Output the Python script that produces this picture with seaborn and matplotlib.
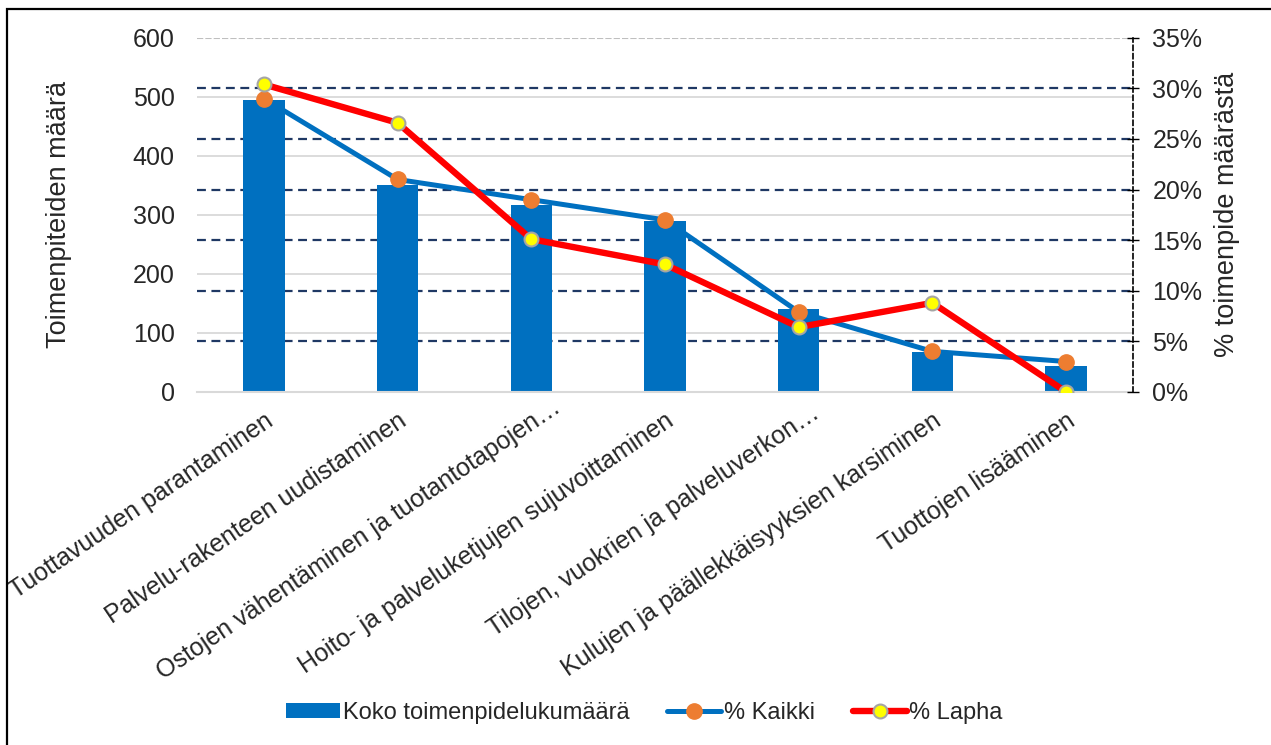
import numpy as np
import pandas as pd
import matplotlib.pyplot as plt
import matplotlib.transforms as mtransforms
import seaborn as sns
from matplotlib.patches import Patch, Rectangle
from matplotlib.lines import Line2D

# Luokat ja arvot kuvasta luettuina
kategoriat = [
    "Tuottavuuden parantaminen",
    "Palvelu-rakenteen uudistaminen",
    "Ostojen vähentäminen ja tuotantotapojen…",
    "Hoito- ja palveluketjujen sujuvoittaminen",
    "Tilojen, vuokrien ja palveluverkon…",
    "Kulujen ja päällekkäisyyksien karsiminen",
    "Tuottojen lisääminen",
]
lukumaara = [495, 351, 317, 290, 140, 67, 44]
pros_kaikki = [29.0, 21.0, 19.0, 17.0, 7.9, 4.0, 3.0]
pros_lapha = [30.4, 26.6, 15.1, 12.6, 6.4, 8.8, 0.0]

vasen_tikit = [0, 100, 200, 300, 400, 500, 600]
oikea_tikit = [0, 5, 10, 15, 20, 25, 30, 35]

df = pd.DataFrame({"kategoria": kategoriat, "lukumaara": lukumaara,
                   "kaikki": pros_kaikki, "lapha": pros_lapha})

sns.set_style("white")
plt.rcParams['font.family'] = ['Liberation Sans', 'DejaVu Sans']

fig = plt.figure(figsize=(12.71, 7.45), dpi=100)
ax = fig.add_axes([0.155, 0.474, 0.7364, 0.4752])

# vaaleat harmaat viivat vasemman akselin mukaan
for v in vasen_tikit[1:-1]:
    ax.axhline(v, color='#d9d9d9', lw=1.3, zorder=0)
ax.axhline(vasen_tikit[-1], color='#bfbfbf', lw=1.5, ls=(0, (3, 1)), zorder=0)
# tummansiniset katkoviivat oikean akselin mukaan
for p in oikea_tikit[1:-1]:
    ax.axhline(p / oikea_tikit[-1] * vasen_tikit[-1], color='#1f3864', lw=1.6,
               ls=(0, (4, 2.5)), zorder=0.5)

sns.barplot(data=df, x="kategoria", y="lukumaara", color='#0070C0', saturation=1,
            width=0.31, linewidth=0, ax=ax, zorder=2)

ax.set_ylim(0, 600)
ax.set_xlim(-0.5, len(kategoriat) - 0.5)
ax.set_yticks(vasen_tikit)
ax.tick_params(axis='y', length=0, pad=16, labelsize=18)
ax.set_ylabel("Toimenpiteiden määrä", fontsize=19.5, labelpad=44)
ax.set_xlabel("")
for s in ['left', 'top', 'right']:
    ax.spines[s].set_visible(False)
ax.spines['bottom'].set_color('#d9d9d9')
ax.spines['bottom'].set_linewidth(1.5)
ax.set_xticks(np.arange(len(kategoriat)))
ax.set_xticklabels(kategoriat, rotation=34, ha='right', rotation_mode='anchor', fontsize=18)
ax.set_xticks(np.arange(-0.5, len(kategoriat)), minor=True)
ax.tick_params(axis='x', which='major', length=0, pad=12)
ax.tick_params(axis='x', which='minor', length=7, width=1.5, color='#d9d9d9')

# katkaistut otsikot ulottuvat hieman pidemmälle (kuten Excelissä)
for lbl in ax.get_xticklabels():
    if lbl.get_text().endswith("…"):
        siirto = 24 if "Ostojen" in lbl.get_text() else 14
        dx = siirto * np.cos(np.radians(34)) / 100
        dy = siirto * np.sin(np.radians(34)) / 100
        lbl.set_transform(lbl.get_transform() +
                          mtransforms.ScaledTranslation(dx, dy, fig.dpi_scale_trans))

ax2 = ax.twinx()
sns.pointplot(data=df, x="kategoria", y="kaikki", color='#0070C0', errorbar=None,
              markerfacecolor='#ED7D31', markeredgecolor='#ED7D31', markersize=11,
              linewidth=3.6, markeredgewidth=1, ax=ax2)
sns.pointplot(data=df, x="kategoria", y="lapha", color='#FF0000', errorbar=None,
              markerfacecolor='#FFFF00', markeredgecolor='#A5A5A5', markersize=10,
              linewidth=4.6, markeredgewidth=1.5, ax=ax2)
ax2.set_xlim(-0.5, len(kategoriat) - 0.5)
ax2.set_ylim(0, 35)
ax2.set_yticks(oikea_tikit)
ax2.set_yticklabels([f"{p}%" for p in oikea_tikit])
ax2.tick_params(axis='y', direction='inout', length=8, width=1, color='black',
                pad=10, labelsize=18)
ax2.set_ylabel("% toimenpide määrästä", fontsize=19.5, labelpad=8)
ax2.set_xlabel("")
for s in ['left', 'top', 'bottom']:
    ax2.spines[s].set_visible(False)
ax2.spines['right'].set_linestyle((0, (3, 2)))
ax2.spines['right'].set_color('black')
ax2.spines['right'].set_linewidth(1.2)

kahvat = [
    Patch(facecolor='#0070C0', edgecolor='none'),
    Line2D([], [], color='#0070C0', lw=3.6, marker='o', markersize=11,
           markerfacecolor='#ED7D31', markeredgecolor='#ED7D31'),
    Line2D([], [], color='#FF0000', lw=4.6, marker='o', markersize=10,
           markerfacecolor='#FFFF00', markeredgecolor='#A5A5A5', markeredgewidth=1.5),
]
fig.legend(kahvat, ["Koko toimenpidelukumäärä", "% Kaikki", "% Lapha"],
           loc='center', bbox_to_anchor=(0.507, 0.043), ncol=3, frameon=False,
           fontsize=17, handlelength=2.3, handleheight=0.55, handletextpad=0.1,
           columnspacing=1.6)

# kehys vasemmalle ja ylös
fig.add_artist(Rectangle((7 / 1271, -0.1), 1.2, 1 - 9 / 745 + 0.1, transform=fig.transFigure,
                         fill=False, lw=1.6, ec='black'))

plt.savefig("out.png", dpi=100)
